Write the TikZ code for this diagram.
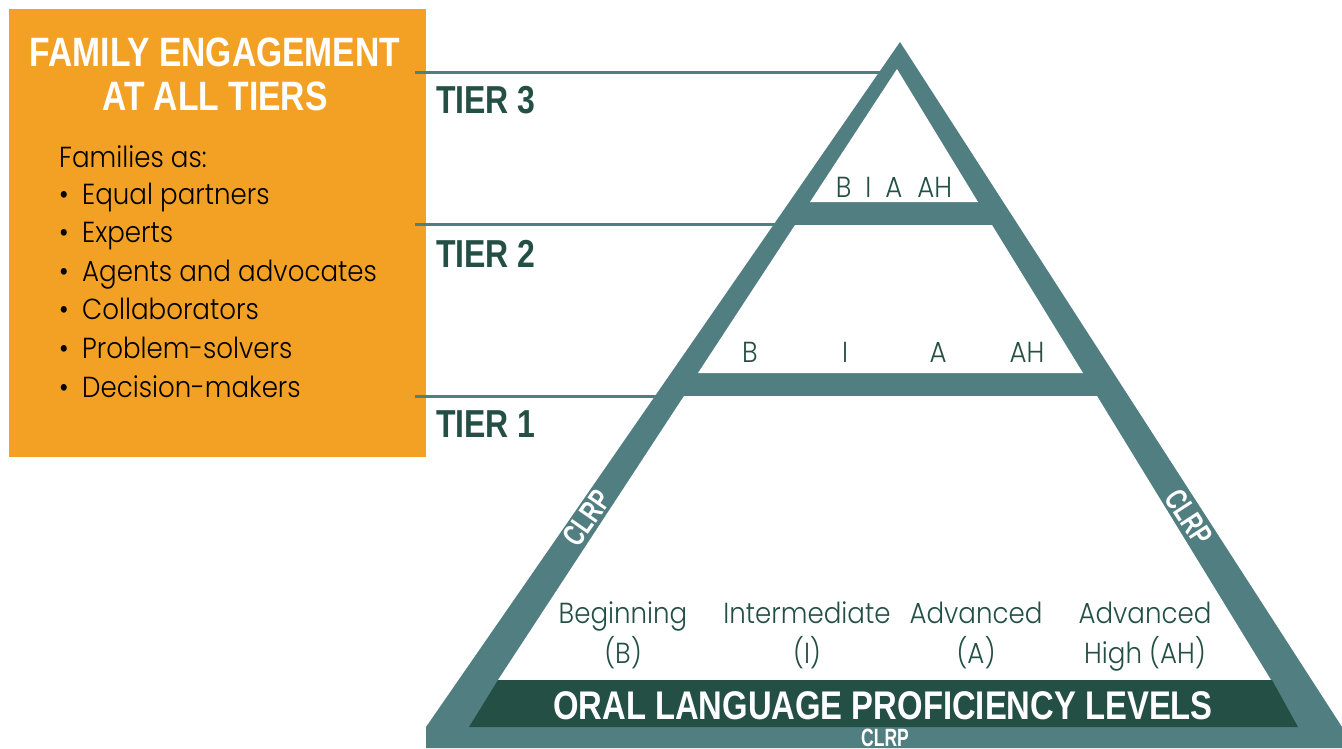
\documentclass[tikz,border=0pt]{standalone}
\usepackage{fontspec}
\setmainfont{Liberation Sans}
\newfontfamily\headfont[FakeStretch=0.82]{Liberation Sans}
\newfontfamily\clrpfont[FakeStretch=0.7]{Liberation Sans}
\IfFontExistsTF{Poppins-Light.ttf}{\newfontfamily\lightfont[FakeStretch=0.9]{Poppins-Light.ttf}}{%
  \IfFontExistsTF{Lato Light}{\newfontfamily\lightfont{Lato Light}}{%
    \newfontfamily\lightfont[FakeStretch=0.9]{Poppins}}}
\usepackage{tikz}
\usetikzlibrary{positioning}
\definecolor{famorange}{RGB}{243,161,37}
\definecolor{pyrteal}{RGB}{81,126,129}
\definecolor{pyrgreen}{RGB}{36,79,69}
\tikzset{
  tierline/.style={draw=pyrteal, line width=3pt},
  tiername/.style={font=\headfont\bfseries\fontsize{39}{44}\selectfont, text=pyrgreen, anchor=base west, inner sep=0pt},
  boxtitle/.style={font=\headfont\bfseries\fontsize{41}{44}\selectfont, text=white, anchor=base, inner sep=0pt},
  boxtext/.style={font=\lightfont\fontsize{29}{38}\selectfont, text=black, anchor=base west, inner sep=0pt},
  level/.style={font=\lightfont\fontsize{29}{40}\selectfont, text=pyrgreen, anchor=base, inner sep=0pt, align=center},
  clrp/.style={font=\clrpfont\bfseries\fontsize{31}{33}\selectfont, text=white, inner sep=0pt}
}
\begin{document}
\begin{tikzpicture}[x=1pt,y=-1pt]
\useasboundingbox (0,0) rectangle (1342,748);
\fill[famorange] (9,9) rectangle (426,457);
\node[boxtitle] (famtitle) at (215,66) {FAMILY ENGAGEMENT};
\node[boxtitle] (alltiers) at (215,110) {AT ALL TIERS};
\node[boxtext] (famas) at (59,167) {Families as:};
\foreach \role [count=\i] in {Equal partners, Experts, Agents and advocates, Collaborators, Problem-solvers, Decision-makers}
  \node[boxtext] (role\i) at (59,165.5+38.6*\i) {\makebox[23pt][l]{\textbullet}\role};
\coordinate (tier3l) at (415,72);
\coordinate (tier3r) at (885,72);
\coordinate (tier2l) at (415,224);
\coordinate (tier2r) at (780,224);
\coordinate (tier1l) at (415,396);
\coordinate (tier1r) at (662,396);
\draw[tierline] (tier3l) -- (tier3r);
\draw[tierline] (tier2l) -- (tier2r);
\draw[tierline] (tier1l) -- (tier1r);
\fill[pyrteal] (900,42) -- (1342,727) -- (1342,748) -- (426,748) -- (426,727) -- cycle;
\fill[white] (897,69) -- (978,202) -- (810,202) -- cycle;
\fill[white] (795,225) -- (992,225) -- (1083,373) -- (698,373) -- cycle;
\fill[white] (684,396) -- (1097,396) -- (1271,680) -- (498,680) -- cycle;
\fill[pyrgreen] (498,680) -- (1272,680) -- (1298,727) -- (469,727) -- cycle;
\node[tiername] (tier3) at (436,113) {TIER 3};
\node[tiername] (tier2) at (436,267) {TIER 2};
\node[tiername] (tier1) at (436,437) {TIER 1};
\node[level] (topset) at (894,197) {B\hspace{14pt}I\hspace{14pt}A\hspace{15pt}AH};
\node[level] (midb) at (750,362) {B};
\node[level] (midi) at (845,362) {I};
\node[level] (mida) at (938,362) {A};
\node[level] (midah) at (1027,362) {AH};
\node[level] (beg) at (623,663) {Beginning\\(B)};
\node[level] (inter) at (807,663) {Intermediate\\(I)};
\node[level] (adv) at (976,663) {Advanced\\(A)};
\node[level] (advhigh) at (1145,663) {Advanced\\High (AH)};
\node[boxtitle, font=\headfont\bfseries\fontsize{40}{44}\selectfont] (oral) at (883,719) {ORAL LANGUAGE PROFICIENCY LEVELS};
\node[clrp, rotate=55] (clrpleft) at (587,518) {CLRP};
\node[clrp, rotate=-57] (clrpright) at (1189,517) {CLRP};
\node[clrp, anchor=base, font=\clrpfont\bfseries\fontsize{25}{27}\selectfont] (clrpbase) at (885,746) {CLRP};
\end{tikzpicture}
\end{document}
